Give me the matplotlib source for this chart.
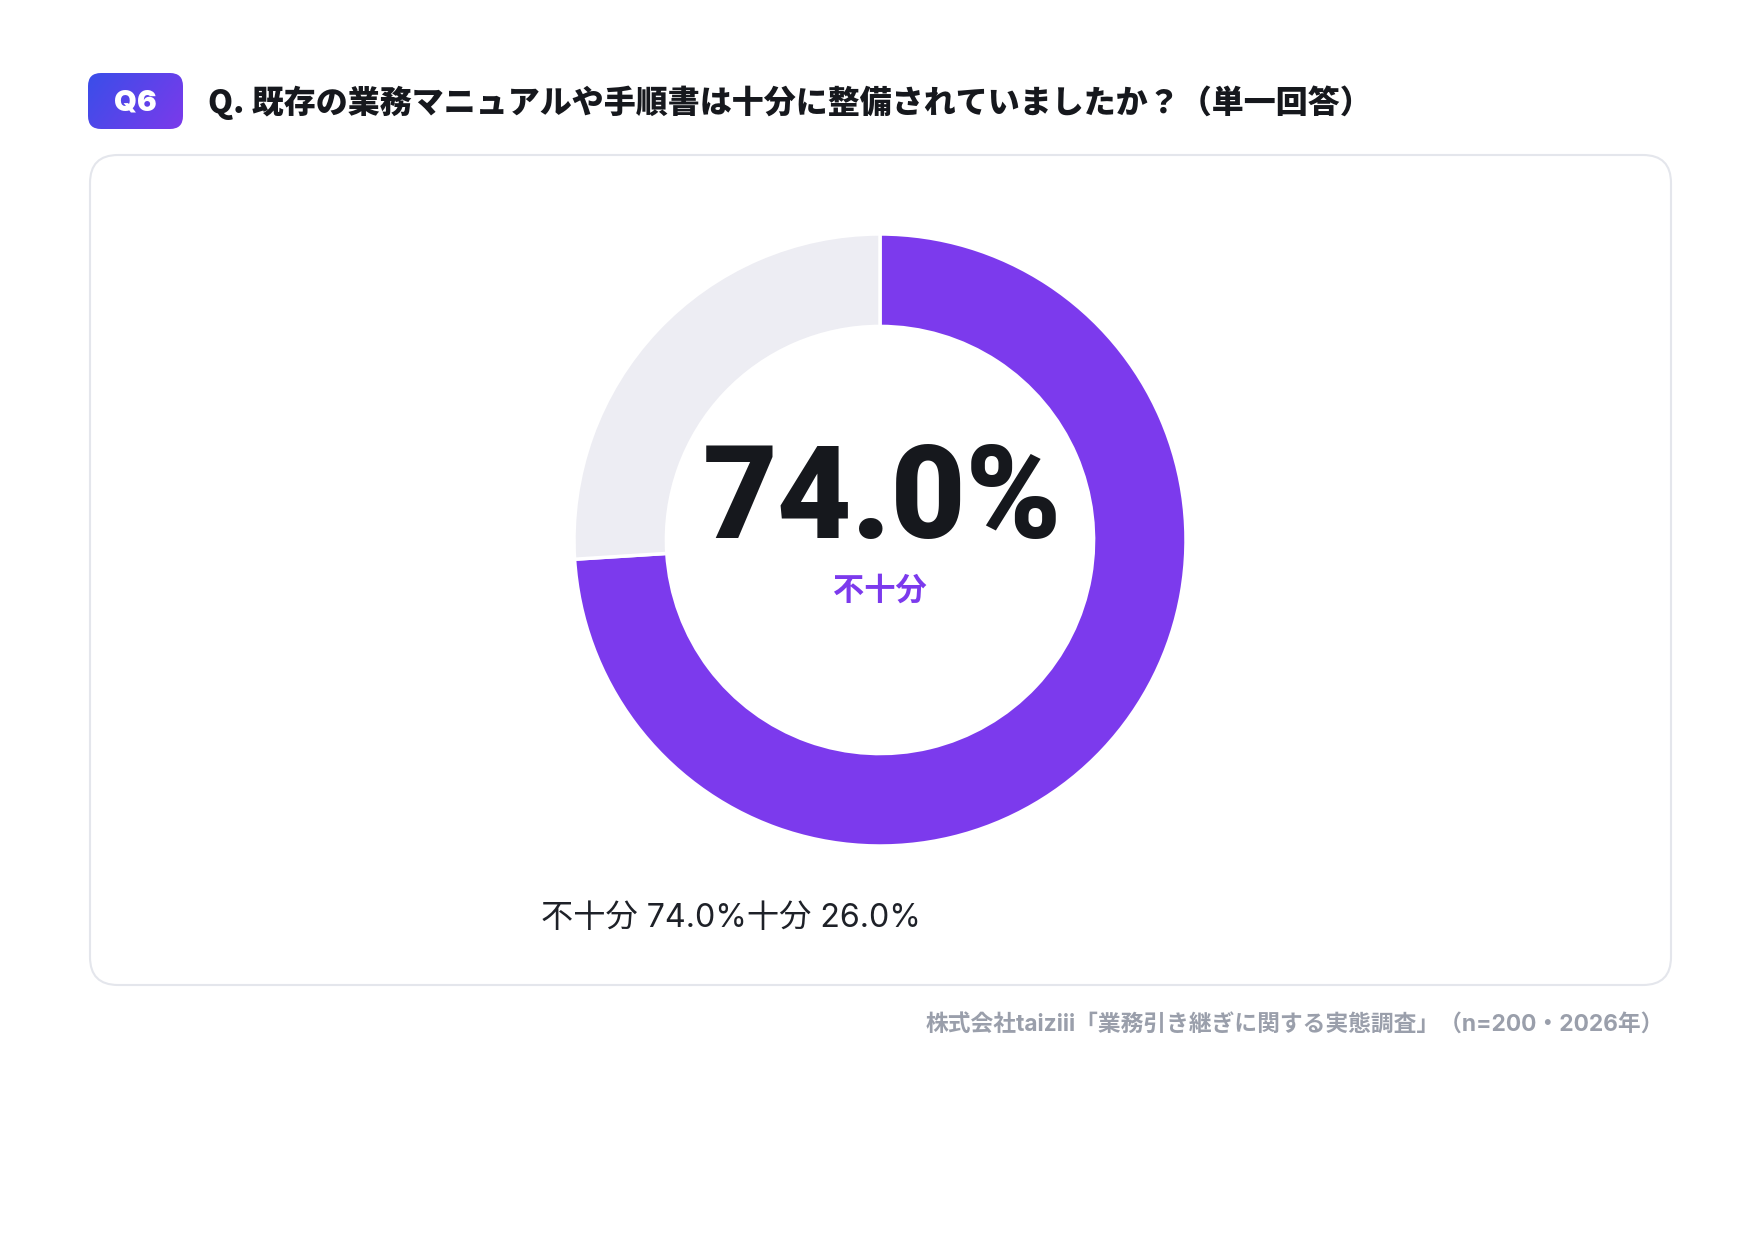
import numpy as np
import matplotlib
matplotlib.use("Agg")
import matplotlib.pyplot as plt
from matplotlib.patches import FancyBboxPatch

# データ
labels = ["不十分", "十分"]
values = [74.0, 26.0]
colors = ["#7C3AED", "#EDEDF3"]
badge = "Q6"
title = "Q. 既存の業務マニュアルや手順書は十分に整備されていましたか？（単一回答）"
source = "株式会社taiziii「業務引き継ぎに関する実態調査」（n=200・2026年）"

JP = ["Noto Sans CJK JP", "DejaVu Sans"]
LATIN_JP = ["Inter", "Noto Sans CJK JP", "DejaVu Sans"]
W, H = 1760, 1240

fig = plt.figure(figsize=(W / 100, H / 100), dpi=100)
fig.patch.set_facecolor("white")

# ピクセル座標のベース軸
ax = fig.add_axes([0, 0, 1, 1])
ax.set_xlim(0, W)
ax.set_ylim(H, 0)
ax.axis("off")

# カード
card = FancyBboxPatch((90, 155), 1581, 830,
                      boxstyle="round,pad=0,rounding_size=28",
                      fc="white", ec="#E4E6EC", lw=1.5, zorder=1)
ax.add_patch(card)

# Q6 バッジ（グラデーション）
bx, by, bw, bh = 88, 73, 95, 56
badge_box = FancyBboxPatch((bx, by), bw, bh,
                           boxstyle="round,pad=0,rounding_size=13",
                           fc="none", ec="none", zorder=2)
ax.add_patch(badge_box)
gx, gy = np.meshgrid(np.linspace(0, 1, 100), np.linspace(0, 1, 60))
grad = (gx * 0.7 + gy * 0.3)
cmap = matplotlib.colors.LinearSegmentedColormap.from_list("qg", ["#3A4EE9", "#7B3AEB"])
im = ax.imshow(grad, extent=(bx, bx + bw, by + bh, by), cmap=cmap,
               aspect="auto", zorder=2, interpolation="bilinear")
im.set_clip_path(badge_box)
ax.set_xlim(0, W)
ax.set_ylim(H, 0)
ax.text(bx + bw / 2, 111, badge, ha="center", va="baseline",
        color="white", fontsize=21, fontweight="black",
        family=["Inter", "DejaVu Sans"], zorder=3)

# タイトル
ax.text(208, 103, title, ha="left", va="center", color="#16181D",
        fontsize=23, fontweight="heavy", family=JP, zorder=3)

# ドーナツ
cx, cy, r = 880, 540, 306
pax = fig.add_axes([(cx - r) / W, (H - cy - r) / H, 2 * r / W, 2 * r / H])
pax.pie(values, colors=colors, startangle=90, counterclock=False, radius=1,
        wedgeprops=dict(width=0.302, edgecolor="white", linewidth=2.5))
pax.set_xlim(-1, 1)
pax.set_ylim(-1, 1)
pax.set_aspect("equal")
pax.axis("off")

# 中央テキスト
ax.text(cx + 2, 538, f"{values[0]:.1f}%", ha="center", va="baseline",
        color="#16181D", fontsize=93, fontweight="black",
        family=["Roboto", "DejaVu Sans"], zorder=5)
ax.text(cx, 591, labels[0], ha="center", va="center", color=colors[0],
        fontsize=22.5, fontweight="bold", family=JP, zorder=5)

# 凡例テキスト
legend_text = "".join(f"{l} {v:.1f}%" for l, v in zip(labels, values))
ax.text(541, 918, legend_text, ha="left", va="center", color="#1E2128",
        fontsize=23.2, family=LATIN_JP, zorder=3)

# 出典
ax.text(1664, 1026, source, ha="right", va="center", color="#9A9FAB",
        fontsize=16.4, fontweight="bold", family=LATIN_JP, zorder=3)

fig.savefig("out.png", dpi=100, facecolor="white")
